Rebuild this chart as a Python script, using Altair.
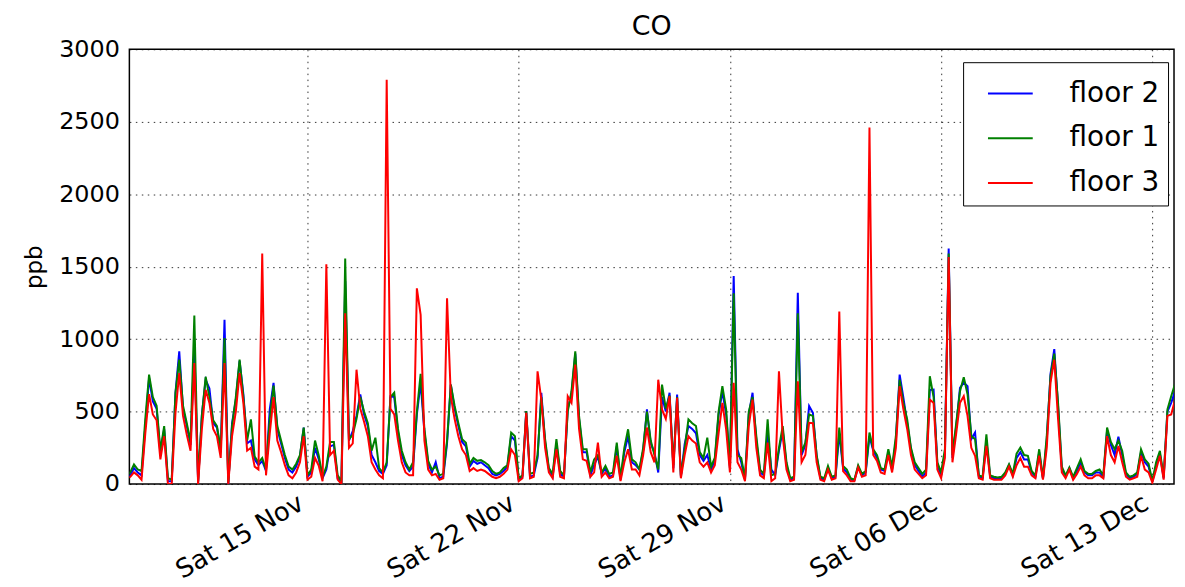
import altair as alt
import pandas as pd

# 3-hourly readings (00,03,...,21h) from 2014-11-09 to 2014-12-13, ppb
floor2 = [
    50, 60, 110, 80, 60, 400, 730, 570,
    520, 210, 380, 20, 20, 630, 915, 520,
    400, 270, 950, 10, 480, 720, 660, 420,
    390, 220, 1133, 0, 420, 580, 850, 620,
    280, 300, 170, 130, 160, 90, 515, 698,
    380, 280, 180, 100, 80, 120, 190, 390,
    50, 80, 250, 170, 40, 100, 260, 270,
    40, 10, 1400, 300, 366, 470, 618, 480,
    400, 200, 150, 90, 70, 130, 606, 600,
    360, 200, 130, 90, 120, 480, 700, 360,
    140, 80, 150, 40, 50, 280, 686, 520,
    400, 290, 260, 120, 160, 140, 150, 130,
    110, 70, 60, 70, 90, 120, 330, 300,
    30, 50, 503, 50, 60, 180, 630, 290,
    100, 50, 280, 70, 50, 520, 620, 900,
    450, 220, 220, 60, 130, 190, 70, 110,
    50, 60, 260, 30, 220, 330, 150, 130,
    100, 230, 515, 280, 217, 80, 600, 500,
    630, 110, 618, 50, 275, 400, 380, 350,
    200, 160, 200, 100, 160, 480, 640, 480,
    110, 1435, 240, 150, 30, 480, 630, 300,
    80, 60, 350, 100, 60, 230, 370, 130,
    30, 40, 1320, 200, 270, 538, 492, 190,
    40, 30, 110, 40, 50, 350, 110, 80,
    30, 25, 120, 60, 80, 330, 230, 180,
    100, 90, 220, 100, 300, 755, 595, 420,
    240, 130, 90, 50, 80, 650, 652, 130,
    60, 210, 1625, 180, 400, 663, 700, 675,
    310, 355, 50, 40, 300, 50, 40, 40,
    40, 70, 130, 60, 180, 220, 170, 170,
    80, 50, 220, 35, 300, 760, 931, 540,
    100, 50, 110, 40, 90, 150, 80, 60,
    60, 80, 80, 50, 370, 270, 200, 327,
    200, 70, 40, 50, 70, 220, 150, 120,
    15, 130, 210, 40, 500, 560, 640, 480,
]

floor1 = [
    60, 80, 135, 100, 90, 450, 755, 600,
    540, 230, 400, 40, 30, 630, 858, 540,
    420, 290, 1162, 20, 470, 740, 600, 440,
    400, 240, 1007, 10, 400, 600, 858, 600,
    300, 446, 190, 150, 180, 100, 450, 680,
    400, 300, 200, 120, 100, 140, 200, 390,
    60, 100, 300, 195, 50, 120, 290, 290,
    60, 20, 1556, 310, 340, 450, 600, 500,
    420, 230, 320, 110, 80, 150, 600, 630,
    380, 230, 150, 100, 150, 500, 760, 380,
    160, 100, 120, 60, 70, 300, 686, 540,
    420, 310, 285, 140, 180, 160, 165, 150,
    130, 90, 70, 80, 110, 130, 355, 330,
    40, 60, 503, 70, 80, 200, 600, 310,
    110, 70, 310, 90, 60, 500, 640, 915,
    470, 240, 240, 80, 170, 200, 80, 125,
    70, 80, 286, 40, 250, 378, 170, 150,
    100, 250, 500, 300, 200, 100, 686, 520,
    610, 130, 600, 60, 240, 446, 420, 400,
    220, 180, 320, 120, 183, 500, 675, 515,
    125, 1316, 200, 180, 40, 500, 600, 330,
    100, 70, 446, 60, 70, 250, 400, 150,
    40, 50, 1178, 220, 286, 480, 470, 200,
    50, 40, 125, 50, 60, 390, 125, 100,
    40, 30, 130, 70, 90, 355, 240, 200,
    110, 100, 240, 120, 330, 720, 560, 446,
    250, 150, 110, 70, 100, 744, 600, 150,
    80, 240, 1590, 200, 420, 640, 737, 620,
    330, 310, 60, 50, 343, 60, 50, 45,
    50, 80, 137, 70, 210, 252, 200, 195,
    90, 60, 240, 40, 330, 744, 900, 560,
    120, 60, 115, 50, 110, 170, 90, 70,
    70, 90, 100, 60, 390, 290, 240, 300,
    230, 80, 50, 60, 80, 240, 170, 140,
    20, 150, 229, 50, 515, 606, 690, 500,
]

floor3 = [
    40, 50, 80, 60, 30, 350, 620, 480,
    440, 170, 330, 0, 0, 490, 766, 470,
    340, 230, 835, 0, 380, 650, 560, 380,
    330, 180, 835, 0, 330, 500, 766, 560,
    230, 250, 120, 100, 1590, 60, 350, 600,
    300, 220, 130, 60, 40, 80, 150, 330,
    30, 50, 180, 125, 20, 1517, 200, 230,
    30, 0, 1178, 250, 280, 789, 520, 430,
    330, 150, 100, 60, 40, 2790, 520, 480,
    300, 150, 80, 60, 60, 1350, 1167, 300,
    100, 60, 70, 30, 40, 1281, 606, 450,
    330, 240, 200, 90, 110, 90, 100, 90,
    70, 50, 40, 50, 70, 100, 240, 200,
    20, 40, 492, 40, 50, 778, 583, 250,
    80, 40, 240, 50, 40, 606, 560, 824,
    380, 170, 160, 50, 80, 286, 50, 80,
    40, 50, 195, 20, 150, 240, 100, 100,
    60, 200, 390, 220, 150, 720, 515, 450,
    606, 80, 595, 40, 200, 330, 300, 280,
    150, 120, 150, 80, 130, 350, 560, 377,
    80, 698, 150, 100, 20, 400, 583, 250,
    60, 40, 286, 20, 40, 778, 330, 100,
    20, 30, 709, 150, 200, 423, 420, 150,
    30, 20, 100, 30, 40, 1190, 90, 60,
    20, 20, 115, 50, 60, 2460, 200, 160,
    80, 70, 200, 80, 250, 675, 515, 380,
    200, 100, 70, 40, 60, 583, 560, 100,
    40, 180, 1567, 150, 350, 560, 606, 470,
    250, 195, 40, 30, 263, 40, 30, 30,
    30, 60, 120, 50, 130, 180, 120, 120,
    60, 40, 195, 30, 250, 700, 858, 450,
    80, 40, 100, 30, 70, 120, 60, 40,
    40, 60, 60, 40, 330, 200, 150, 263,
    150, 50, 30, 40, 50, 195, 100, 80,
    10, 100, 195, 30, 470, 480, 580, 400,
]

series_names = ["floor 2", "floor 1", "floor 3"]
series_colors = ["#0000ff", "#008000", "#ff0000"]
saturdays = [(2014, 11, 15), (2014, 11, 22), (2014, 11, 29), (2014, 12, 6), (2014, 12, 13)]
y_ticks = [0, 500, 1000, 1500, 2000, 2500, 3000]

times = pd.date_range("2014-11-09 00:00", periods=len(floor3), freq="3h")
tstr = [t.strftime("%Y-%m-%dT%H:%M:%SZ") for t in times]

rows = []
for name, vals in zip(series_names, [floor2, floor1, floor3]):
    for t, v in zip(tstr, vals):
        rows.append({"time": t, "ppb": v, "series": name})
df = pd.DataFrame(rows)

FONT = "DejaVu Sans"

x_enc = alt.X(
    "time:T",
    scale=alt.Scale(
        type="utc",
        domain=[
            alt.DateTime(year=2014, month=11, date=9, hours=2, minutes=20, utc=True),
            alt.DateTime(year=2014, month=12, date=13, hours=17, minutes=14, utc=True),
        ],
    ),
    axis=alt.Axis(
        title=None,
        values=[alt.DateTime(year=y, month=m, date=d, utc=True) for (y, m, d) in saturdays],
        labelExpr="utcFormat(datum.value, '%a %d %b')",
        labelAngle=-30,
        labelAlign="right",
        labelBaseline="bottom",
        labelPadding=28,
        labelFontSize=26,
        labelOverlap=False,
        labelFlush=False,
        labelBound=False,
        ticks=False,
        domain=False,
        grid=True,
    ),
)

y_enc = alt.Y(
    "ppb:Q",
    scale=alt.Scale(domain=[0, 3000], nice=False),
    axis=alt.Axis(
        title="ppb",
        values=y_ticks,
        format="d",
        ticks=False,
        domain=False,
        grid=True,
        labelPadding=10,
        labelFontSize=24,
        titleX=-95,
        titleY=218.5,
        titleAngle=-90,
        titleAlign="center",
        titleBaseline="middle",
    ),
)

color_enc = alt.Color(
    "series:N",
    scale=alt.Scale(domain=series_names, range=series_colors),
    legend=alt.Legend(
        title=None,
        orient="none",
        legendX=838,
        legendY=13,
        symbolType="stroke",
        symbolSize=2025,
        symbolStrokeWidth=2,
        symbolOffset=16,
        labelOffset=36,
        labelFontSize=28,
        labelFont=FONT,
        labelColor="black",
        padding=8,
        rowPadding=7,
        strokeColor="black",
        fillColor="white",
    ),
)

layers = []
for name in series_names:
    layers.append(
        alt.Chart(df)
        .transform_filter(alt.datum.series == name)
        .mark_line(strokeWidth=2, clip=True)
        .encode(x=x_enc, y=y_enc, color=color_enc)
    )

chart = (
    alt.layer(*layers)
    .properties(
        width=1050,
        height=437,
        title=alt.TitleParams("CO", fontSize=27, font=FONT, fontWeight="normal", color="black", offset=0, dy=4, anchor="middle"),
        autosize=alt.AutoSizeParams(type="none"),
        padding={"left": 122, "top": 40, "right": 3, "bottom": 100},
    )
    .configure_view(stroke="black", strokeWidth=1.5)
    .configure_axis(
        labelFont=FONT,
        labelColor="black",
        titleFont=FONT,
        titleFontSize=23,
        titleColor="black",
        titleFontWeight="normal",
        gridColor="black",
        gridDash=[1.5, 4.5],
        gridOpacity=0.8,
        gridWidth=1,
    )
)

chart.save("out.html", embed_options={"renderer": "svg", "actions": False})
